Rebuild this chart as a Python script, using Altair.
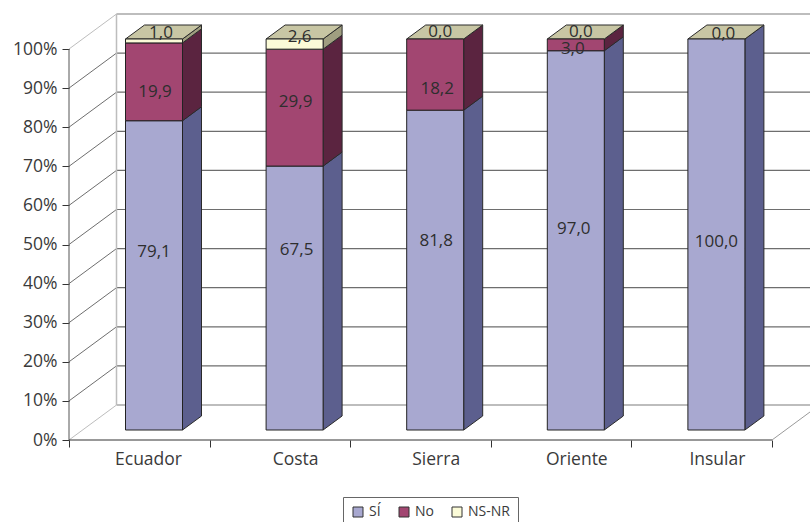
import altair as alt
import pandas as pd

# Survey shares per region, stacked to 100 %
categories = ["Ecuador", "Costa", "Sierra", "Oriente", "Insular"]
series_names = ["SÍ", "No", "NS-NR"]
si_values = [79.1, 67.5, 81.8, 97.0, 100.0]
no_values = [19.9, 29.9, 18.2, 3.0, 0.0]
nsnr_values = [1.0, 2.6, 0.0, 0.0, 0.0]
value_labels = ["79,1", "67,5", "81,8", "97,0", "100,0",
                "19,9", "29,9", "18,2", "3,0", "",
                "1,0", "2,6", "0,0", "0,0", "0,0"]

FONT = "Open Sans"
TEXT = "#3a3a3a"
FRONT = ["#a8a8d0", "#a24671", "#fbfbd8"]
SIDE = ["#5c5f8e", "#5b2440", "#a09e80"]
TOP_FACE = "#c8c6a4"

# Plot scale: one category slot is 140.6 px, one percent 3.91 px
PX_X, PX_Y = 140.6, 3.91
W, H = 741, 440
X_DOM = [0, W / PX_X]
Y_DOM = [0, H / PX_Y]
x_scale = alt.Scale(domain=X_DOM, nice=False, zero=False)
y_scale = alt.Scale(domain=Y_DOM, nice=False, zero=False)

# Oblique projection used for the box and for the columns
WALL_DX, WALL_DY = 47.5 / PX_X, 35 / PX_Y
BAR_DX, BAR_DY = 19 / PX_X, 14 / PX_Y
BAR_LEFT, BAR_W = 56.5 / PX_X, 57 / PX_X
BAR_LIFT = 10 / PX_Y

# Hand placement of the value labels, in px relative to the anchor point
nudge_x = [0, 2, 1, -2, 0,
           1, 1, 2, -3, 0,
           7, 5, 5, 5, 7]
nudge_y = [-23, -48, -29, -11, 7,
           10, -6, 14, 4, 0,
           -6, -2, -7, -7, -5]

front, side, top, labels = [], [], [], []
stacks = [si_values, no_values, nsnr_values]
for i, cat in enumerate(categories):
    left = i + BAR_LEFT
    right = left + BAR_W
    base = 0.0
    for s, vals in enumerate(stacks):
        v = vals[i]
        y0, y1 = base + BAR_LIFT, base + v + BAR_LIFT
        if v > 0:
            front.append(dict(series=series_names[s], x=left, x2=right, y=y0, y2=y1))
            face = f"{cat}-{s}"
            side.append(dict(face=face, s=s, x=right, y=y0, y2=y1))
            side.append(dict(face=face, s=s, x=right + BAR_DX, y=y0 + BAR_DY, y2=y1 + BAR_DY))
        k = s * len(categories) + i
        if value_labels[k]:
            # The top band is labelled at its upper edge, the others at their middle
            anchor = y1 if s == 2 else (y0 + y1) / 2
            labels.append(dict(text=value_labels[k],
                               x=(left + right) / 2 + nudge_x[k] / PX_X,
                               y=anchor - nudge_y[k] / PX_Y))
        base += v
    peak = base + BAR_LIFT
    top.append(dict(face=cat, y=peak, x=left, x2=right))
    top.append(dict(face=cat, y=peak + BAR_DY, x=left + BAR_DX, x2=right + BAR_DX))

front_df, side_df, top_df, labels_df = map(pd.DataFrame, (front, side, top, labels))

ticks = list(range(0, 101, 10))

x_axis = alt.Axis(
    title=None, values=list(range(6)), grid=False, domain=False,
    tickColor="#333333", tickSize=7,
    labelExpr="datum.value < 5 ? " + str(categories) + "[datum.value] : ''",
    labelFont=FONT, labelFontSize=17.5, labelColor=TEXT, labelPadding=3,
    labelAngle=0, labelAlign="center", labelOverlap=False, labelBound=False, labelFlush=False,
    labelOffset={"condition": {"test": "datum.value == 0", "value": 79}, "value": 85.5},
)
y_axis = alt.Axis(
    title=None, values=ticks, grid=False, domain=False,
    tickColor="#333333", tickSize=7,
    labelExpr="datum.value + '%'",
    labelFont=FONT, labelFontSize=17.5, labelColor=TEXT, labelPadding=5,
)

X = lambda f: alt.X(f, type="quantitative", scale=x_scale, axis=x_axis, stack=None)
Y = lambda f: alt.Y(f, type="quantitative", scale=y_scale, axis=y_axis, stack=None)

wall = pd.DataFrame(dict(v=ticks))
wall["y_back"] = wall.v + WALL_DY
wall["x_back"] = WALL_DX
wall["x_end"] = X_DOM[1]
wall["x0"] = 0.0
inner = wall[(wall.v > 0) & (wall.v < 100)]
edge = wall[(wall.v == 0) | (wall.v == 100)]

GRID, EDGE = "#6e6e6e", "#bdbdbd"


def wall_lines(df, color, width):
    horiz = alt.Chart(df).mark_rule(color=color, strokeWidth=width).encode(
        x=X("x_back"), x2="x_end", y=Y("y_back"))
    diag = alt.Chart(df).mark_rule(color=color, strokeWidth=1).encode(
        x=X("x0"), x2="x_back", y=Y("v"), y2="y_back")
    return horiz + diag


back_edge = alt.Chart(pd.DataFrame(dict(x=[WALL_DX], y=[WALL_DY], y2=[100 + WALL_DY]))).mark_rule(
    color=EDGE, strokeWidth=1.5).encode(x=X("x"), y=Y("y"), y2="y2")

floor_right = alt.Chart(pd.DataFrame(dict(x=[5.0], x2=[5 + WALL_DX], y=[0.0], y2=[WALL_DY]))).mark_rule(
    color="#9a9a9a", strokeWidth=1).encode(x=X("x"), x2="x2", y=Y("y"), y2="y2")

# Axis lines stop at the box, so they are rules instead of axis domains
x_line = alt.Chart(pd.DataFrame(dict(x=[0.0], x2=[5.0], y=[0.0]))).mark_rule(
    color="#333333", strokeWidth=1).encode(x=X("x"), x2="x2", y=Y("y"))
y_line = alt.Chart(pd.DataFrame(dict(x=[0.0], y=[0.0], y2=[100.0]))).mark_rule(
    color="#555555", strokeWidth=1).encode(x=X("x"), y=Y("y"), y2="y2")

side_layers = [
    alt.Chart(side_df[side_df.s == s]).mark_area(
        color=SIDE[s], stroke="#2a2a2a", strokeWidth=1).encode(
        x=X("x"), y=Y("y"), y2="y2", detail="face:N")
    for s in range(3)
]

lid = alt.Chart(top_df).mark_area(
    orient="horizontal", color=TOP_FACE, stroke="#2a2a2a", strokeWidth=1).encode(
    x=X("x"), x2="x2", y=Y("y"), detail="face:N")

front_bars = alt.Chart(front_df).mark_bar(stroke="#222222", strokeWidth=1).encode(
    x=X("x"), x2="x2", y=Y("y"), y2="y2",
    fill=alt.Fill("series:N", title=None,
                  scale=alt.Scale(domain=series_names, range=FRONT),
                  legend=alt.Legend(
                      orient="none", legendX=274, legendY=497, direction="horizontal",
                      columns=3, symbolType="square", symbolSize=100,
                      symbolStrokeColor="#333333", symbolStrokeWidth=1,
                      symbolOpacity=1, strokeColor="#666666", fillColor="white",
                      padding=8, labelFont=FONT, labelFontSize=14, labelColor=TEXT,
                      columnPadding=16, labelOffset=4)))

texts = alt.Chart(labels_df).mark_text(
    font=FONT, fontSize=17, color="#2e2e2e", baseline="middle").encode(
    x=X("x"), y=Y("y"), text="text:N")

chart = alt.layer(
    wall_lines(inner, GRID, 1.2),
    wall_lines(edge, EDGE, 2),
    back_edge, floor_right, x_line, y_line,
    *side_layers, lid, front_bars, texts,
).properties(
    width=W, height=H,
    autosize=alt.AutoSizeParams(type="none"),
    padding={"left": 69, "top": 0, "right": 0, "bottom": 82},
    background="white",
).configure_view(stroke=None)

chart.save("out.html", embed_options={"renderer": "svg", "actions": False})
